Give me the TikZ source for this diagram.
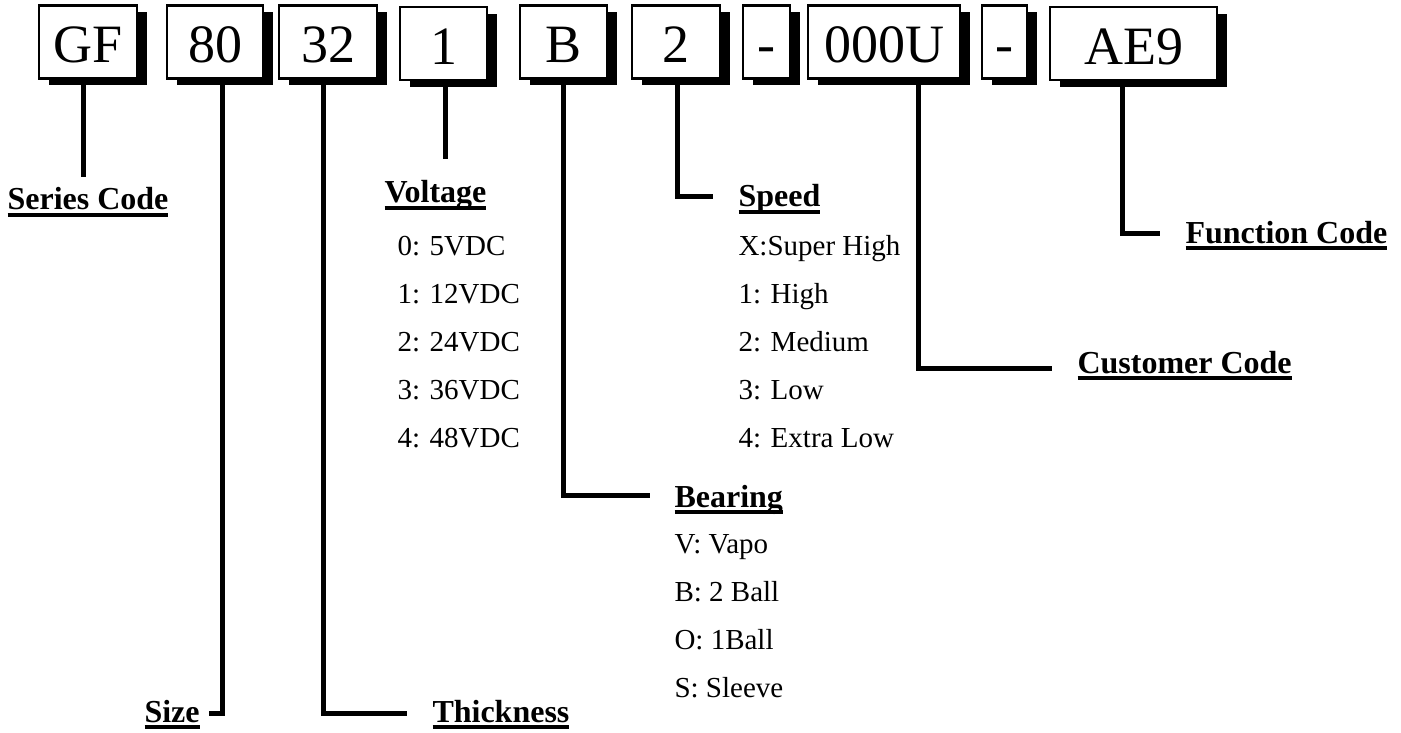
\documentclass[tikz,border=0pt]{standalone}
\usepackage{fontspec}
\setmainfont{Liberation Serif}
\usetikzlibrary{shadows,calc}

\newcommand\ulabel[1]{\setbox0\hbox{#1}\rlap{\rule[-7pt]{\wd0}{4pt}}\box0}

\begin{document}
\begin{tikzpicture}[
    x=1pt,y=-1pt,
    line width=5pt,
    codebox/.style={draw,line width=2.5pt,fill=white,inner sep=0pt,minimum height=73pt,
        text height=42pt,text depth=0pt,font=\fontsize{54}{60}\selectfont,
        drop shadow={shadow xshift=10pt,shadow yshift=-7pt,fill=black,opacity=1}},
    title/.style={inner sep=0pt,anchor=base west,font=\fontsize{32}{36}\selectfont\bfseries},
    opt/.style={inner sep=0pt,anchor=base west,font=\fontsize{29}{34}\selectfont}
]
    \useasboundingbox (0,0) rectangle (1401,733);

    % Code boxes
    \node[codebox,minimum width=98pt] (gf) at (88,42) {GF};
    \node[codebox,minimum width=96pt] (p80) at (215,42) {80};
    \node[codebox,minimum width=98pt] (p32) at (328,42) {32};
    \node[codebox,minimum width=87pt] (volt1) at (443.5,43.5) {1};
    \node[codebox,minimum width=87pt] (brg) at (563.5,42) {B};
    \node[codebox,minimum width=88pt] (spd) at (676,42) {2};
    \node[codebox,minimum width=47pt] (dash1) at (766.5,42) {-};
    \node[codebox,minimum width=152pt] (cust) at (884,42) {000U};
    \node[codebox,minimum width=45pt] (dash2) at (1004.5,42) {-};
    \node[codebox,minimum width=167pt] (func) at (1133.5,43.5) {AE9};

    % Titles
    \node[title,anchor=base] (series) at (88,210) {\ulabel{Series Code}};
    \node[title] (size) at (142,722) {\ulabel{Size}};
    \node[title] (thick) at (430,722) {\ulabel{Thickness}};
    \node[title] (volt) at (382,203) {\ulabel{Voltage}};
    \node[title] (speed) at (736,207) {\ulabel{Speed}};
    \node[title] (bear) at (672,507) {\ulabel{Bearing}};
    \node[title] (custc) at (1075,373) {\ulabel{Customer Code}};
    \node[title] (funcc) at (1183,243) {\ulabel{Function Code}};

    % Options
    \foreach \t [count=\i] in {0: 5VDC,1: 12VDC,2: 24VDC,3: 36VDC,4: 48VDC}
        \node[opt] (volt-\i) at (395,207+48*\i) {\t};
    \foreach \t [count=\i] in {X:Super High,1: High,2: Medium,3: Low,4: Extra Low}
        \node[opt] (speed-\i) at (736,207+48*\i) {\t};
    \foreach \t [count=\i] in {V: Vapo,B: 2 Ball,O: 1Ball,S: Sleeve}
        \node[opt] (bear-\i) at (672,505+48*\i) {\t};

    % Connectors
    \draw ([xshift=-5pt]gf.south) -- ([xshift=-5pt,yshift=8pt]gf.south |- series.north);
    \draw ([xshift=7pt]p80.south) |- ([xshift=7pt,yshift=9pt]size.base east);
    \draw ([xshift=-5pt]p32.south) |- ([xshift=-23pt,yshift=9pt]thick.base west);
    \draw ([xshift=1.5pt]volt1.south) -- ([xshift=1.5pt,yshift=19pt]volt1.south |- volt.north);
    \draw ([xshift=1pt]spd.south) |- ([xshift=-23pt,yshift=10pt]speed.base west);
    \draw (brg.south) |- ([xshift=-22pt,yshift=12pt]bear.base west);
    \draw ([xshift=34pt]cust.south) |- ([xshift=-23pt,yshift=5pt]custc.base west);
    \draw ([xshift=-11.5pt]func.south) |- ([xshift=-23pt,yshift=10pt]funcc.base west);
\end{tikzpicture}
\end{document}
